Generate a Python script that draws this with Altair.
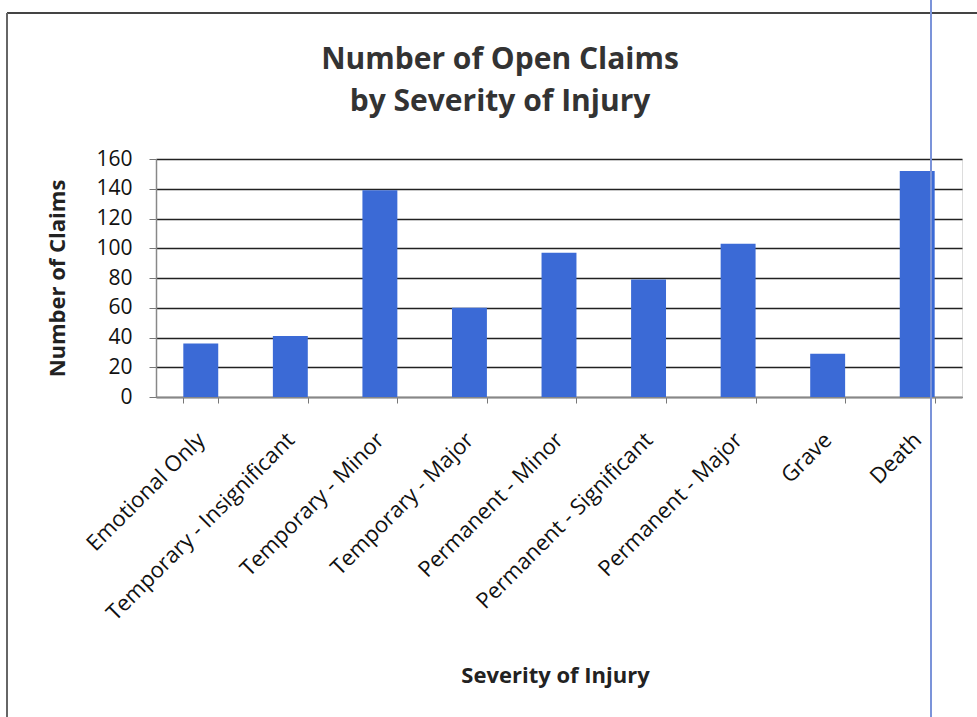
import altair as alt
import pandas as pd

# Open claims by severity of injury
categories = [
    "Emotional Only",
    "Temporary - Insignificant",
    "Temporary - Minor",
    "Temporary - Major",
    "Permanent - Minor",
    "Permanent - Significant",
    "Permanent - Major",
    "Grave",
    "Death",
]
claims = [36, 41, 139, 60, 97, 79, 103, 29, 152]

y_ticks = [0, 20, 40, 60, 80, 100, 120, 140, 160]

df = pd.DataFrame({"severity": categories, "claims": claims})

FONT = "Open Sans"
PLOT_W, PLOT_H = 806, 238
LEFT, TOP = 156, 159

bars = (
    alt.Chart(df)
    .mark_bar(color="#3b6ad6")
    .encode(
        x=alt.X(
            "severity:N",
            sort=categories,
            scale=alt.Scale(paddingInner=0.61, paddingOuter=0.305),
            axis=alt.Axis(
                title="Severity of Injury",
                labelAngle=315,
                labelAlign="right",
                labelBaseline="middle",
                labelPadding=33,
                labelFontSize=22,
                labelFont=FONT,
                labelColor="#111111",
                labelLimit=0,
                tickBand="extent",
                tickSize=6,
                tickColor="#777777",
                domainColor="#888888",
                domainWidth=1.5,
                titleFont=FONT,
                titleFontSize=22,
                titleFontWeight="bold",
                titleColor="#222222",
                titleBaseline="middle",
                titleX=PLOT_W / 2 - 4,
                titleY=278,
                grid=False,
            ),
        ),
        y=alt.Y(
            "claims:Q",
            scale=alt.Scale(domain=[0, 160], nice=False),
            axis=alt.Axis(
                title="Number of Claims",
                values=y_ticks,
                labelFontSize=21,
                labelFont=FONT,
                labelColor="#111111",
                labelPadding=17,
                tickSize=7,
                tickColor="#777777",
                domainColor="#888888",
                domainWidth=1.5,
                gridColor="#222222",
                gridWidth=1.4,
                titleFont=FONT,
                titleFontSize=22,
                titleFontWeight="bold",
                titleColor="#222222",
                titleBaseline="middle",
                titleX=-99,
                titleY=PLOT_H / 2,
            ),
        ),
    )
)

# Page frame around the chart and the blue margin line
frame_top = alt.Chart(df).mark_rule(color="#444444", strokeWidth=2).encode(
    x=alt.value(7 - LEFT), x2=alt.value(977 - LEFT), y=alt.value(13 - TOP)
)
frame_left = alt.Chart(df).mark_rule(color="#666666", strokeWidth=2).encode(
    x=alt.value(7 - LEFT), y=alt.value(13 - TOP), y2=alt.value(717 - TOP)
)
margin_line = alt.Chart(df).mark_rule(color="#7b93d8", strokeWidth=1.5).encode(
    x=alt.value(931 - LEFT), y=alt.value(0 - TOP), y2=alt.value(717 - TOP)
)

chart = (
    alt.layer(bars, frame_top, frame_left, margin_line)
    .properties(
        width=PLOT_W,
        height=PLOT_H,
        padding={"left": LEFT, "top": TOP, "right": 977 - LEFT - PLOT_W, "bottom": 717 - TOP - PLOT_H},
        autosize=alt.AutoSizeParams(type="none"),
        title=alt.TitleParams(
            text=["Number of Open Claims", "by Severity of Injury"],
            font=FONT,
            fontSize=30,
            fontWeight="bold",
            color="#333333",
            anchor="middle",
            frame="group",
            dx=-59,
            dy=118,
            offset=0,
            lineHeight=42,
        ),
    )
    .configure_view(stroke=None)
    .configure(background="white")
)

chart.save("out.html", embed_options={"renderer": "svg", "actions": False})
